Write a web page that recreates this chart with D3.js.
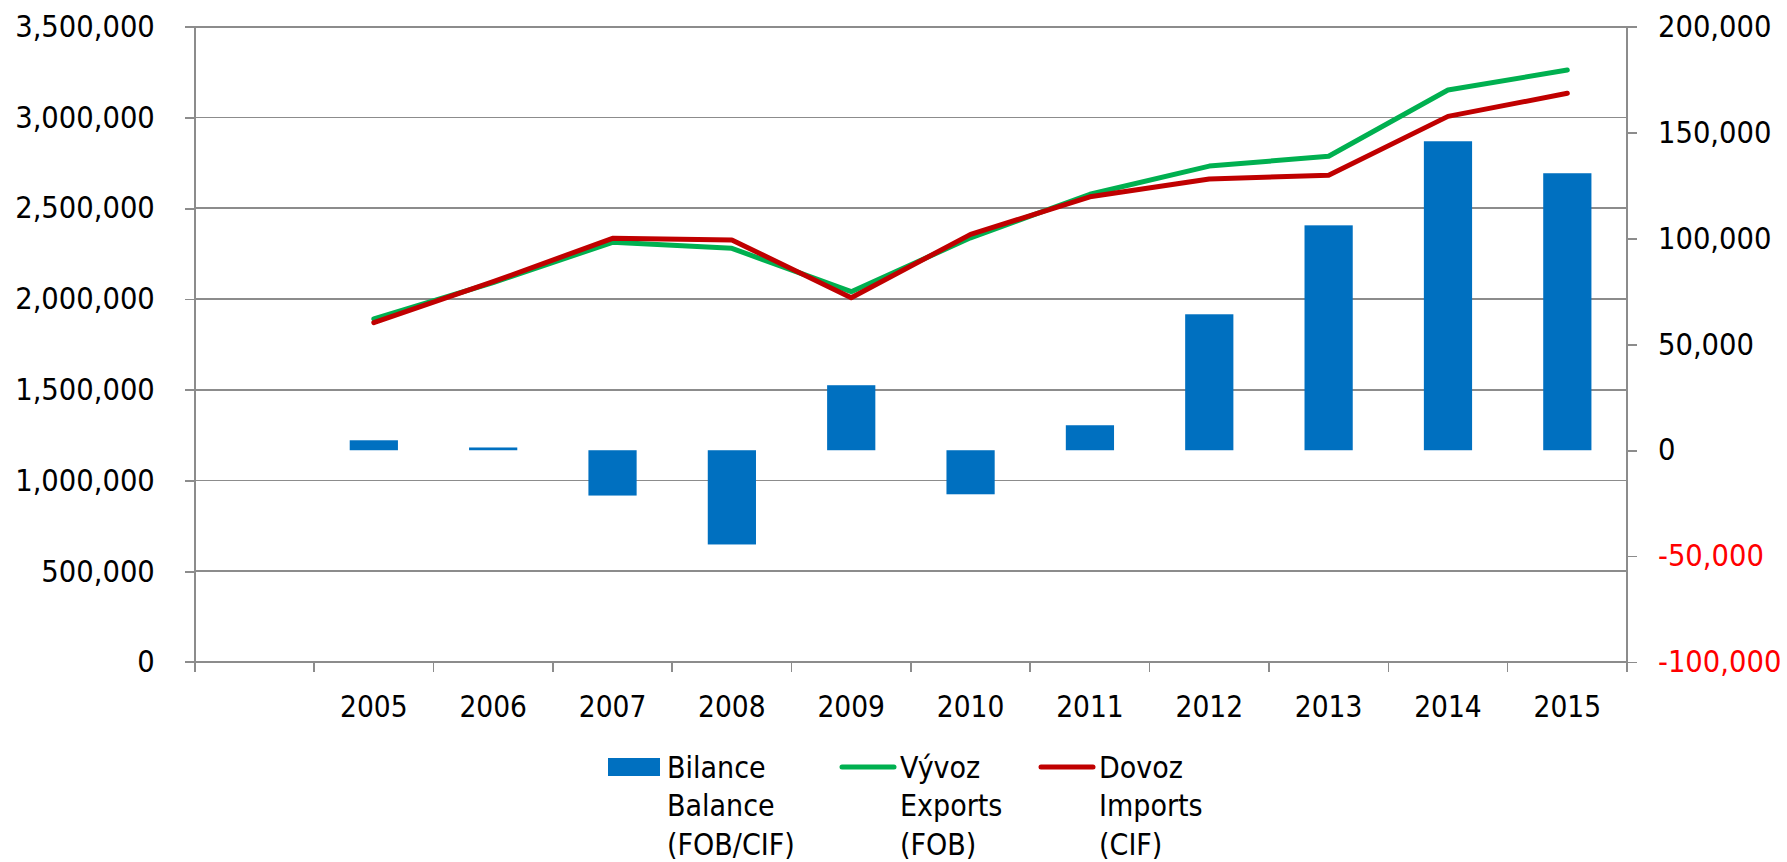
<!DOCTYPE html>
<meta charset="utf-8">
<style>
body { margin: 0; background: #fff; }
svg { display: block; }
text {
  font-family: "DejaVu Sans Condensed", "DejaVu Sans", sans-serif;
  font-stretch: condensed;
}
.grid line, .axis line, .axis path { stroke: #8c8c8c; stroke-width: 1.6; shape-rendering: crispEdges; }
</style>
<head>
  <script src="https://d3js.org/d3.v7.min.js"></script>
</head>
<svg width="1787" height="862"></svg>
<script>

// years (first category is empty in the original chart)
var years = ["", "2005", "2006", "2007", "2008", "2009", "2010", "2011", "2012", "2013", "2014", "2015"];
// trade balance, right axis
var balance = [null, 4700, 1300, -21400, -44500, 30700, -20800, 11800, 64200, 106200, 145900, 130800];
// exports (FOB), left axis
var exportsFob = [null, 1890000, 2090000, 2312000, 2279000, 2040000, 2337000, 2577000, 2732000, 2786000, 3151000, 3261000];
// imports (CIF), left axis
var importsCif = [null, 1870000, 2095000, 2334000, 2325000, 2007000, 2356000, 2563000, 2661000, 2682000, 3006000, 3133000];

var leftTicks = [0, 500000, 1000000, 1500000, 2000000, 2500000, 3000000, 3500000];
var rightTicks = [-100000, -50000, 0, 50000, 100000, 150000, 200000];

var legendItems = [
  {kind: "bar", color: "#0070C0", lines: ["Bilance", "Balance", "(FOB/CIF)"]},
  {kind: "line", color: "#00B050", lines: ["Vývoz", "Exports", "(FOB)"]},
  {kind: "line", color: "#C00000", lines: ["Dovoz", "Imports", "(CIF)"]}
];

var svg = d3.select("svg"),
    pL = 194.8, pR = 1627, pT = 26.7, pB = 662;

var x = d3.scaleBand().domain(years).range([pL, pR]).padding(0);
var yL = d3.scaleLinear().domain([0, 3500000]).range([pB, pT]);
var yR = d3.scaleLinear().domain([-100000, 200000]).range([pB, pT]);
var fmt = d3.formatLocale({decimal: ".", thousands: ",", grouping: [3], currency: ["", ""], minus: "-"}).format(",");

// gridlines
svg.append("g").attr("class", "grid")
  .selectAll("line").data(leftTicks).enter().append("line")
    .attr("x1", pL).attr("x2", pR)
    .attr("y1", function(d) { return yL(d); })
    .attr("y2", function(d) { return yL(d); });

// left axis
var gl = svg.append("g")
    .attr("class", "axis")
    .attr("transform", "translate(" + pL + ",0)")
    .call(d3.axisLeft(yL).tickValues(leftTicks).tickFormat(fmt).tickSize(10).tickSizeOuter(0).tickPadding(30));
gl.select(".domain").remove();
gl.append("line").attr("x1", 0).attr("x2", 0).attr("y1", pT).attr("y2", pB + 10);
gl.selectAll("text").style("font-size", "30.5px").style("fill", "#000");

// right axis
var gr = svg.append("g")
    .attr("class", "axis")
    .attr("transform", "translate(" + pR + ",0)")
    .call(d3.axisRight(yR).tickValues(rightTicks).tickFormat(fmt).tickSize(10).tickSizeOuter(0).tickPadding(21));
gr.select(".domain").remove();
gr.append("line").attr("x1", 0).attr("x2", 0).attr("y1", pT).attr("y2", pB + 10);
gr.selectAll("text").style("font-size", "30.5px")
  .style("fill", function(d) { return d < 0 ? "#FF0000" : "#000"; });

// bottom axis: line, boundary ticks, labels
var gx = svg.append("g").attr("class", "axis");
gx.append("line").attr("x1", pL - 10).attr("x2", pR).attr("y1", pB).attr("y2", pB);
var bounds = years.map(function(d) { return x(d); }).concat([pR]);
gx.selectAll(".btick").data(bounds).enter().append("line")
    .attr("x1", function(d) { return d; }).attr("x2", function(d) { return d; })
    .attr("y1", pB).attr("y2", pB + 10);
gx.selectAll(".lbl").data(years.filter(function(d) { return d; })).enter().append("text")
    .attr("x", function(d) { return x(d) + x.bandwidth() / 2; })
    .attr("y", 716.5)
    .attr("text-anchor", "middle")
    .style("font-size", "29.5px")
    .style("fill", "#000")
    .text(function(d) { return d; });

// bars
var bw = x.bandwidth() * 0.404;
svg.append("g").selectAll("rect")
  .data(years.map(function(d, i) { return {year: d, v: balance[i]}; }).filter(function(d) { return d.v !== null; }))
  .enter().append("rect")
    .attr("x", function(d) { return x(d.year) + x.bandwidth() / 2 - bw / 2; })
    .attr("y", function(d) { return yR(Math.max(0, d.v)); })
    .attr("width", bw)
    .attr("height", function(d) { return Math.abs(yR(d.v) - yR(0)); })
    .attr("fill", "#0070C0");

// lines
var line = d3.line()
    .defined(function(d) { return d.v !== null; })
    .x(function(d) { return x(d.year) + x.bandwidth() / 2; })
    .y(function(d) { return yL(d.v); });

[[exportsFob, "#00B050"], [importsCif, "#C00000"]].forEach(function(s) {
  svg.append("path")
    .datum(years.map(function(d, i) { return {year: d, v: s[0][i]}; }))
    .attr("fill", "none")
    .attr("stroke", s[1])
    .attr("stroke-width", 5)
    .attr("stroke-linecap", "round")
    .attr("stroke-linejoin", "round")
    .attr("d", line);
});

// legend
var legX = [608, 840, 1039];
var lg = svg.append("g");
legendItems.forEach(function(item, i) {
  var g = lg.append("g").attr("transform", "translate(" + legX[i] + ",0)");
  var tx;
  if (item.kind === "bar") {
    g.append("rect").attr("x", 0).attr("y", 758).attr("width", 52).attr("height", 18).attr("fill", item.color);
    tx = 59;
  } else {
    g.append("line").attr("x1", 2).attr("x2", 54).attr("y1", 767).attr("y2", 767)
      .attr("stroke", item.color).attr("stroke-width", 5).attr("stroke-linecap", "round");
    tx = 60;
  }
  item.lines.forEach(function(t, j) {
    g.append("text").attr("x", tx).attr("y", 778 + j * 38.4)
      .style("font-size", "30px").style("fill", "#000").text(t);
  });
});

</script>
